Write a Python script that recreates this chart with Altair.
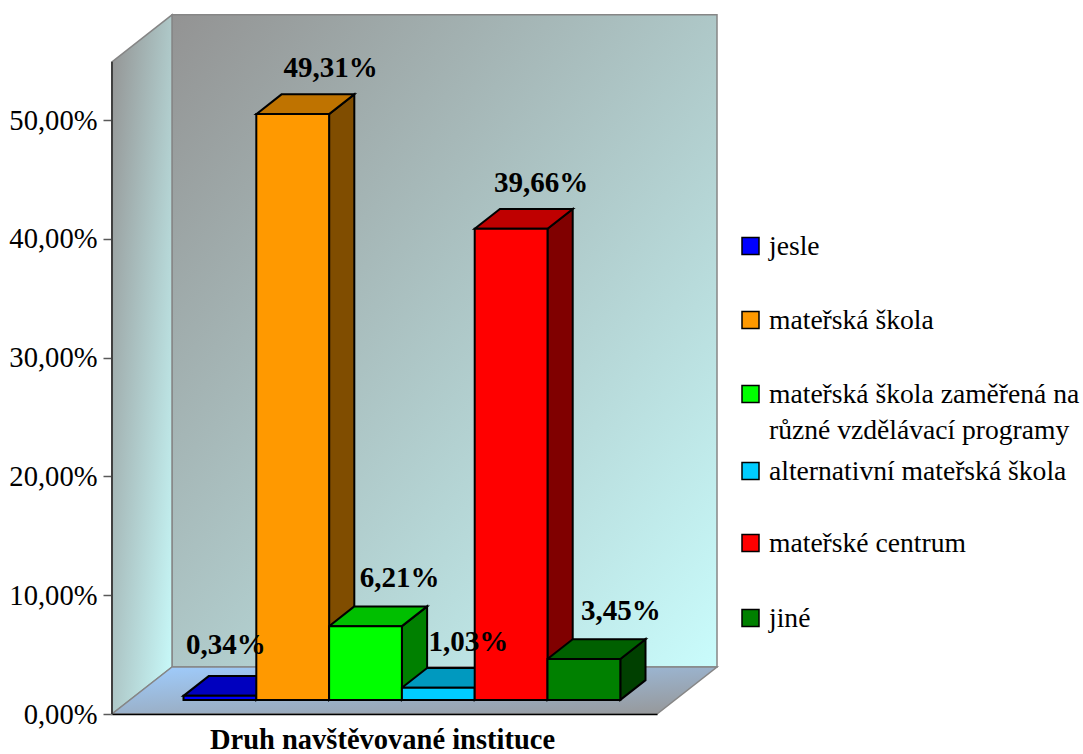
import altair as alt
import pandas as pd

# Chart content
categories = [
    "jesle",
    "mateřská škola",
    "mateřská škola zaměřená na různé vzdělávací programy",
    "alternativní mateřská škola",
    "mateřské centrum",
    "jiné",
]
values = [0.34, 49.31, 6.21, 1.03, 39.66, 3.45]
front_colors = ["#0000ff", "#ff9900", "#00ff00", "#00ccff", "#ff0000", "#008000"]
top_colors = ["#0000bf", "#bf7300", "#00bf00", "#0099bf", "#bf0000", "#006000"]
side_colors = ["#000080", "#804d00", "#008000", "#006680", "#800000", "#004000"]
legend_lines = [
    ["jesle"],
    ["mateřská škola"],
    ["mateřská škola zaměřená na", "různé vzdělávací programy"],
    ["alternativní mateřská škola"],
    ["mateřské centrum"],
    ["jiné"],
]
tick_values = [0, 10, 20, 30, 40, 50]
axis_title = "Druh navštěvované instituce"

# Layout of the oblique projection (pixels per unit)
PX_PER_CAT = 72.8
PX_PER_PCT = 11.88
PLOT_W, PLOT_H = 545, 714
DEPTH_X, DEPTH_Y = 60, 47
X_SPAN = PLOT_W / PX_PER_CAT
Y_SPAN = PLOT_H / PX_PER_PCT
WALL_TOP = 54.9
BAR_START = 0.735
BAR_Z0, BAR_Z1 = 0.3, 0.72
LABEL_SHIFT = [(6, 51), (38, 46.5), (34, 48), (30, 46), (30, 46), (37, 48)]
LEGEND_ROWS = [246, 320, 394, 471, 543, 618]
LEGEND_SWATCH_X, LEGEND_TEXT_X = 750.5, 769
LINE_GAP = 36
FONT = "Liberation Serif"


def project(cat, value, depth):
    """Oblique projection of (category, percent, depth) into scale units."""
    return (
        cat + depth * DEPTH_X / PX_PER_CAT,
        value + depth * DEPTH_Y / PX_PER_PCT,
    )


def from_px(px, py):
    return (px - 112) / PX_PER_CAT, (PLOT_H - py) / PX_PER_PCT


front_rows, side_rows, top_rows, label_rows = [], [], [], []
for i, (cat, val) in enumerate(zip(categories, values)):
    left, right = BAR_START + i, BAR_START + i + 1
    fx0, fy0 = project(left, 0, BAR_Z0)
    fx1, fy1 = project(right, val, BAR_Z0)
    front_rows.append(dict(cat=cat, fill=front_colors[i], x=fx0, x2=fx1, y=fy0, y2=fy1))
    # Right-hand face: two vertical edges joined by sloped top and bottom
    for z in (BAR_Z0, BAR_Z1):
        sx, sy0 = project(right, 0, z)
        _, sy1 = project(right, val, z)
        side_rows.append(dict(cat=cat, fill=side_colors[i], x=sx, y=sy0, y2=sy1))
    # Top face: two horizontal edges joined by sheared sides
    for z in (BAR_Z0, BAR_Z1):
        tx0, ty = project(left, val, z)
        tx1, _ = project(right, val, z)
        top_rows.append(dict(cat=cat, fill=top_colors[i], y=ty, x=tx0, x2=tx1))
    sx_px, sy_px = LABEL_SHIFT[i]
    label_rows.append(dict(
        x=(fx0 + fx1) / 2 + sx_px / PX_PER_CAT,
        y=fy1 + sy_px / PX_PER_PCT,
        label=f"{val:.2f}".replace(".", ",") + "%",
    ))

xb, yb = project(0, 0, 1)
xr, _ = project(X_SPAN, 0, 1)
xt, yt = project(0, WALL_TOP, 1)
xr_top, _ = project(X_SPAN, WALL_TOP, 1)

back_wall = pd.DataFrame([dict(x=xb, x2=xr_top, y=yb, y2=yt)])
left_wall = pd.DataFrame([
    dict(x=0, y=0, y2=WALL_TOP),
    dict(x=xb, y=yb, y2=yt),
])
floor = pd.DataFrame([
    dict(y=0, x=0, x2=X_SPAN),
    dict(y=yb, x=xb, x2=xr),
])
wall_edge = pd.DataFrame([dict(x=0, y=0, y2=WALL_TOP)])

swatch_rows, legend_text_rows = [], []
for row_y, lines, color in zip(LEGEND_ROWS, legend_lines, front_colors):
    sx, sy = from_px(LEGEND_SWATCH_X, row_y)
    swatch_rows.append(dict(x=sx, y=sy, fill=color))
    for n, line in enumerate(lines):
        tx, ty = from_px(LEGEND_TEXT_X, row_y + 1 + n * LINE_GAP)
        legend_text_rows.append(dict(x=tx, y=ty, text=line))

x_scale = alt.Scale(domain=[0, X_SPAN], nice=False, zero=False)
y_scale = alt.Scale(domain=[0, Y_SPAN], nice=False, zero=False)
x_axis = alt.Axis(
    title=axis_title, labels=False, ticks=False, grid=False,
    domainColor="black", domainWidth=1.5, zindex=1,
    titleFont=FONT, titleFontSize=28.5, titleFontWeight="bold", titleColor="black",
    titlePadding=11, titleX=270,
)
y_axis = alt.Axis(
    title=None, values=tick_values, domain=False, grid=False,
    tickColor="#595959", tickSize=9, tickWidth=1.5,
    labelFont=FONT, labelFontSize=28.6, labelColor="black", labelPadding=6,
    labelExpr="replace(format(datum.value, '.2f'), '.', ',') + '%'",
)
X = alt.X("x:Q", scale=x_scale, axis=x_axis)
Y = alt.Y("y:Q", scale=y_scale, axis=y_axis)
X2 = alt.X2("x2:Q")
Y2 = alt.Y2("y2:Q")
FILL = alt.Color("fill:N", scale=None)

wall_gradient = alt.Gradient(
    gradient="linear",
    stops=[alt.GradientStop(color="#939393", offset=0), alt.GradientStop(color="#c9fcfc", offset=1)],
    x1=0, y1=0, x2=1, y2=1,
)
floor_gradient = alt.Gradient(
    gradient="linear",
    stops=[alt.GradientStop(color="#9fcdff", offset=0), alt.GradientStop(color="#969696", offset=1)],
    x1=0, y1=0, x2=1, y2=1,
)
EDGE = "#868686"

back = alt.Chart(back_wall).mark_rect(
    color=wall_gradient, stroke=EDGE, strokeWidth=1.5
).encode(x=X, x2=X2, y=Y, y2=Y2)
left = alt.Chart(left_wall).mark_area(
    color=wall_gradient, stroke=EDGE, strokeWidth=1.5
).encode(x=X, y=Y, y2=Y2)
ground = alt.Chart(floor).mark_area(
    orient="horizontal", color=floor_gradient, stroke=EDGE, strokeWidth=1.5
).encode(y=Y, x=X, x2=X2)
edge = alt.Chart(wall_edge).mark_rule(color="#404040", strokeWidth=2).encode(x=X, y=Y, y2=Y2)

sides = alt.Chart(pd.DataFrame(side_rows)).mark_area(
    stroke="black", strokeWidth=2
).encode(x=X, y=Y, y2=Y2, fill=FILL, detail="cat:N")
tops = alt.Chart(pd.DataFrame(top_rows)).mark_area(
    orient="horizontal", stroke="black", strokeWidth=2
).encode(y=Y, x=X, x2=X2, fill=FILL, detail="cat:N")
fronts = alt.Chart(pd.DataFrame(front_rows)).mark_rect(
    stroke="black", strokeWidth=2
).encode(x=X, x2=X2, y=Y, y2=Y2, fill=FILL)

labels = alt.Chart(pd.DataFrame(label_rows)).mark_text(
    font=FONT, fontSize=29, fontWeight="bold", color="black", baseline="middle", align="center"
).encode(x=X, y=Y, text="label:N")

swatches = alt.Chart(pd.DataFrame(swatch_rows)).mark_square(
    size=17 * 17, stroke="black", strokeWidth=1.5, opacity=1
).encode(x=X, y=Y, fill=FILL)
legend_text = alt.Chart(pd.DataFrame(legend_text_rows)).mark_text(
    font=FONT, fontSize=27.6, color="black", baseline="middle", align="left"
).encode(x=X, y=Y, text="text:N")

chart = alt.layer(
    back, left, ground, edge, sides, tops, fronts, labels, swatches, legend_text
).properties(
    width=PLOT_W,
    height=PLOT_H,
    padding={"left": 112, "top": 0, "right": 426, "bottom": 40},
    autosize=alt.AutoSizeParams(type="none"),
    background="white",
).configure_view(stroke=None)

chart.save("out.html", embed_options={"renderer": "svg", "actions": False})
